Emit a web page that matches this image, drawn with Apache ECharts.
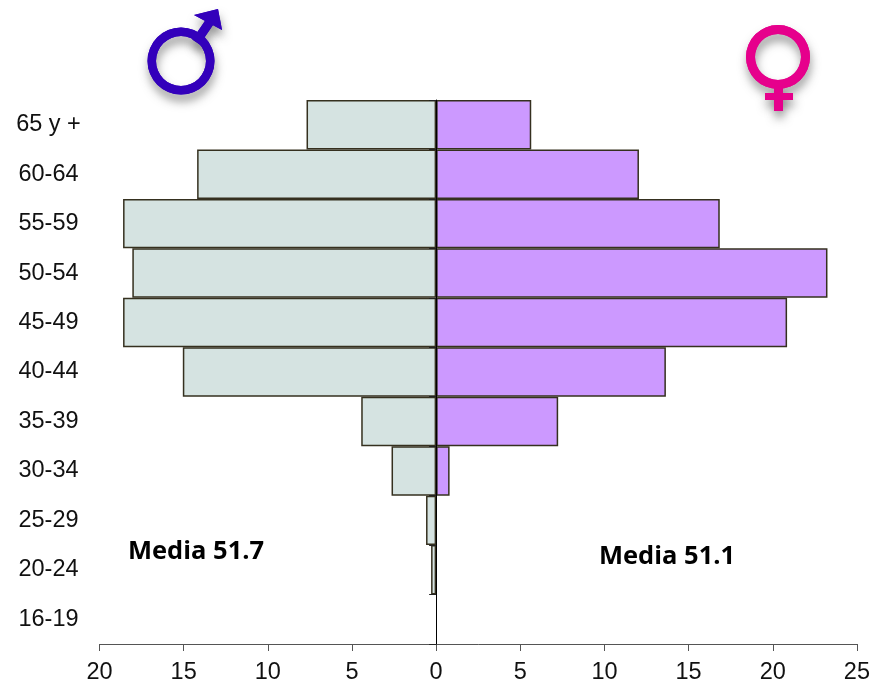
<!DOCTYPE html>
<html>
<head>
<meta charset="utf-8">
<style>html,body{margin:0;padding:0;background:#fff}#chart{width:873px;height:686px}</style>
<script src="https://cdn.jsdelivr.net/npm/echarts@6/dist/echarts.min.js"></script>
</head>
<body>
<div id="chart"></div>
<script>
// Age groups, youngest first so the oldest group sits on top
const ageGroups = ['16-19','20-24','25-29','30-34','35-39','40-44','45-49','50-54','55-59','60-64','65 y +'];
// Men are plotted to the left of zero, women to the right; null means no bar
const menValues = [null,-0.3,-0.6,-2.65,-4.45,-15.05,-18.6,-18.05,-18.6,-14.2,-7.7];
const womenValues = [null,null,null,0.8,7.25,13.65,20.85,23.25,16.85,12.05,5.65];
const medianMen = 'Media 51.7';
const medianWomen = 'Media 51.1';

const border = '#35301f';
const maleBlue = '#3300bb';
const femalePink = '#e6008c';

// Each symbol is drawn twice: a shadowed pass underneath, then a clean pass on top
const soft = {shadowBlur: 10, shadowColor: 'rgba(60,60,60,0.5)', shadowOffsetY: 7, shadowOffsetX: 1};
function layered(parts) {
  const under = parts.map((p) => ({type: p.type, shape: p.shape, z: 10,
    style: Object.assign({}, p.style, soft)}));
  const over = parts.map((p) => ({type: p.type, shape: p.shape, z: 11, style: p.style}));
  return under.concat(over);
}
const maleSymbol = layered([
  {type: 'line', shape: {x1: 196, y1: 42, x2: 211, y2: 20}, style: {stroke: maleBlue, lineWidth: 9}},
  {type: 'polygon', shape: {points: [[194, 15], [218, 9], [222, 30]]}, style: {fill: maleBlue}},
  {type: 'ring', shape: {cx: 181, cy: 61, r: 33.5, r0: 25}, style: {fill: maleBlue}}
]);
const femaleSymbol = layered([
  {type: 'rect', shape: {x: 774, y: 84, width: 9, height: 27}, style: {fill: femalePink}},
  {type: 'rect', shape: {x: 765, y: 93, width: 28, height: 7}, style: {fill: femalePink}},
  {type: 'ring', shape: {cx: 778, cy: 57, r: 32, r0: 23}, style: {fill: femalePink}}
]);

const chart = echarts.init(document.getElementById('chart'), null, {renderer: 'canvas'});
chart.setOption({
  animation: false,
  backgroundColor: '#fff',
  grid: {left: 99.5, right: 15.5, top: 100, bottom: 42},
  xAxis: {
    type: 'value', min: -20, max: 25, interval: 5,
    axisLine: {show: true, lineStyle: {color: '#555', width: 1}},
    axisTick: {show: true, length: 7, lineStyle: {color: '#555', width: 1}},
    splitLine: {show: false},
    axisLabel: {
      color: '#111', fontSize: 23.5, fontFamily: 'Liberation Sans', margin: 17,
      hideOverlap: false, showMinLabel: true, showMaxLabel: true,
      formatter: (v) => String(Math.abs(v))
    }
  },
  yAxis: [
    {
      // Centre line at zero with its short category ticks
      type: 'category', data: ageGroups,
      axisLine: {show: true, onZero: true, lineStyle: {color: '#000', width: 1}},
      axisTick: {show: true, length: 7, lineStyle: {color: '#222', width: 1}},
      axisLabel: {show: false},
      z: 5
    },
    {
      // Age labels in the left margin
      type: 'category', data: ageGroups, position: 'left',
      axisLine: {show: false, onZero: false},
      axisTick: {show: false},
      axisLabel: {color: '#111', fontSize: 23.5, fontFamily: 'Liberation Sans', margin: 51, align: 'center', interval: 0, padding: [4, 0, 0, 0]}
    }
  ],
  series: [
    {
      name: 'Hombres', type: 'bar', stack: 'pop', yAxisIndex: 0, barWidth: '100%', data: menValues,
      itemStyle: {color: '#d5e3e1', borderColor: border, borderWidth: 1.5}
    },
    {
      name: 'Mujeres', type: 'bar', stack: 'pop', yAxisIndex: 0, barWidth: '100%', data: womenValues,
      itemStyle: {color: '#cc99ff', borderColor: border, borderWidth: 1.5}
    }
  ],
  graphic: [
    {type: 'text', left: 128, top: 539, style: {text: medianMen, font: 'bold 25.5px "Open Sans"', fill: '#000'}},
    {type: 'text', left: 599, top: 544, style: {text: medianWomen, font: 'bold 25.5px "Open Sans"', fill: '#000'}}
  ].concat(maleSymbol, femaleSymbol)
});
</script>
</body>
</html>
